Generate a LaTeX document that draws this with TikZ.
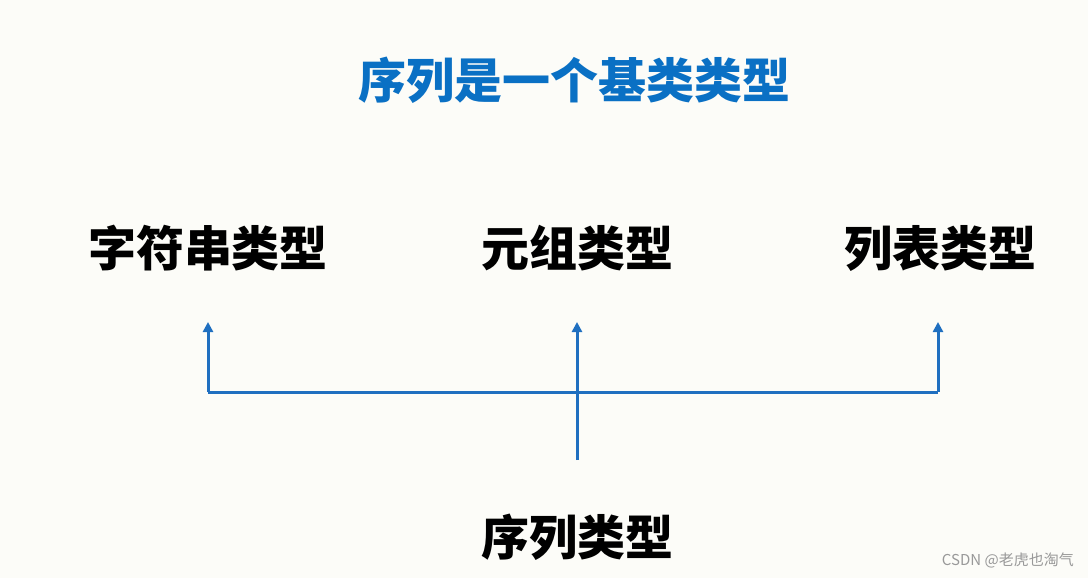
\documentclass[tikz,border=0pt]{standalone}
\usepackage{fontspec}
\newfontfamily\cjk{Noto Sans CJK SC Black}
\newfontfamily\cjkr{Noto Sans CJK SC}
\usetikzlibrary{arrows.meta}
\definecolor{bg}{HTML}{FCFCF8}
\definecolor{tblue}{HTML}{0A70C4}
\definecolor{lblue}{HTML}{1F6FC0}
\begin{document}
\begin{tikzpicture}[x=1pt,y=-1pt,
  lbl/.style={font=\cjk\fontsize{48}{52}\selectfont,inner sep=0pt},
  conn/.style={draw=lblue,line width=3pt},
  arr/.style={conn,-{Triangle[length=10pt,width=10pt]}}]
\fill[bg] (0,0) rectangle (1088,578);
\useasboundingbox (0,0) rectangle (1088,578);
\node[lbl,text=tblue] (title) at (574,80) {序列是一个基类类型};
\node[lbl] (s) at (208,248) {字符串类型};
\node[lbl] (t) at (577,248) {元组类型};
\node[lbl] (l) at (940,248) {列表类型};
\node[lbl] (q) at (577,537) {序列类型};
\coordinate (sa) at (208,322);
\coordinate (ta) at (577,322);
\coordinate (la) at (938,322);
\coordinate (sb) at (208,392);
\coordinate (lb) at (938,392);
\coordinate (qb) at (577,460);
\draw[conn] (sb) -- (lb);
\draw[arr] (sb) -- (sa);
\draw[arr] (lb) -- (la);
\draw[arr] (qb) -- (ta);
\node[font=\cjkr\fontsize{15}{17}\selectfont,text=gray!80,anchor=east,inner sep=0pt] (csdn) at (1074,560) {CSDN @老虎也淘气};
\end{tikzpicture}
\end{document}
